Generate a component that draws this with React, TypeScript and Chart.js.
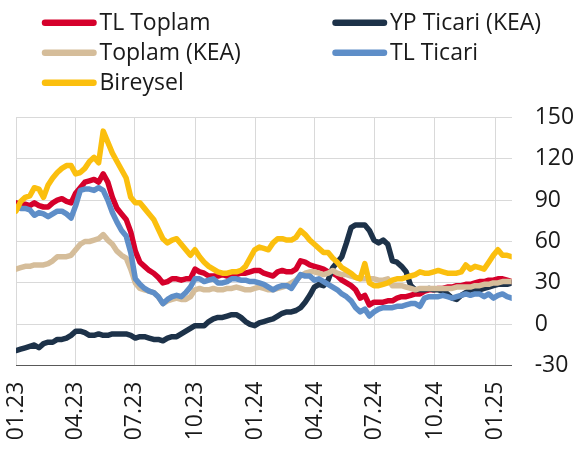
import React, { useEffect, useRef } from 'react';
import { Chart, registerables } from 'chart.js';

Chart.register(...registerables);

const seriesNames = ['TL Toplam', 'YP Ticari (KEA)', 'Toplam (KEA)', 'TL Ticari', 'Bireysel'];
const seriesColors = ['#d5002b', '#1d3249', '#d5bd9a', '#5e8ec8', '#fbbf0e'];

// weekly observations, first week = 01.23
const tlToplam = [88, 87, 87, 86, 88, 86, 85, 85, 88, 90, 91, 89, 88, 95, 99, 103, 104, 105, 103, 109,
  103, 92, 84, 80, 76, 67, 53, 45, 42, 39, 37, 34, 30, 31, 33, 33, 32, 33, 33, 40,
  38, 37, 35, 35, 35, 36, 35, 35, 36, 37, 37, 38, 39, 39, 37, 36, 35, 38, 39, 38,
  38, 40, 46, 45, 43, 42, 41, 40, 38, 37, 35, 32, 30, 28, 25, 19, 21, 14, 16, 16,
  16, 17, 17, 19, 20, 20, 21, 22, 22, 24, 25, 25, 26, 26, 27, 27, 28, 28, 29, 29,
  30, 31, 31, 32, 32, 33, 33, 32, 31];

const ypTicari = [-19, -18, -17, -16, -15, -17, -14, -13, -13, -11, -11, -10, -8, -5, -5, -6, -8, -8, -7, -8,
  -8, -7, -7, -7, -7, -8, -10, -9, -9, -10, -11, -11, -12, -10, -9, -9, -7, -5, -3, -1,
  -1, -1, 2, 4, 5, 5, 6, 7, 7, 5, 2, 0, -1, 1, 2, 3, 4, 6, 8, 9,
  9, 10, 12, 16, 21, 27, 29, 28, 32, 41, 45, 49, 59, 70, 72, 72, 72, 68, 61, 59,
  61, 58, 46, 45, 42, 38, 28, 25, 25, 25, 26, 25, 25, 24, 22, 19, 18, 21, 23, 25,
  25, 25, 26, 27, 28, 29, 29, 29, 30];

const toplamKea = [40, 41, 42, 42, 43, 43, 43, 44, 46, 49, 49, 49, 50, 54, 58, 60, 60, 61, 62, 65,
  61, 58, 53, 50, 48, 40, 30, 26, 25, 24, 23, 20, 15, 17, 18, 19, 18, 18, 20, 25,
  26, 25, 25, 26, 25, 25, 26, 26, 27, 26, 25, 25, 26, 27, 26, 25, 25, 26, 27, 28,
  30, 32, 35, 37, 38, 38, 37, 36, 37, 39, 37, 36, 36, 35, 34, 33, 33, 33, 33, 32,
  32, 33, 28, 28, 28, 27, 26, 25, 26, 26, 26, 26, 26, 26, 26, 26, 27, 27, 27, 27,
  28, 28, 29, 29, 30, 30, 31, 31, 31];

const tlTicari = [85, 84, 84, 83, 79, 81, 80, 78, 80, 82, 82, 80, 77, 86, 97, 98, 98, 97, 99, 97,
  90, 81, 74, 68, 64, 52, 33, 29, 26, 24, 23, 20, 15, 18, 20, 21, 20, 23, 27, 33,
  33, 31, 32, 33, 30, 30, 31, 33, 33, 32, 32, 31, 31, 30, 29, 27, 25, 27, 28, 28,
  26, 31, 36, 35, 35, 32, 33, 31, 29, 27, 25, 22, 20, 17, 12, 9, 11, 6, 9, 11,
  12, 12, 12, 13, 13, 14, 15, 15, 13, 19, 20, 20, 20, 21, 20, 19, 20, 21, 22, 21,
  22, 22, 20, 22, 19, 21, 22, 20, 19];

const bireysel = [82, 89, 92, 93, 99, 98, 92, 101, 106, 110, 113, 115, 115, 109, 110, 113, 118, 121, 117, 140,
  132, 124, 118, 112, 106, 92, 88, 88, 84, 80, 76, 69, 62, 59, 61, 62, 58, 54, 50, 54,
  49, 45, 42, 40, 38, 37, 37, 38, 38, 39, 42, 48, 54, 56, 55, 54, 59, 62, 62, 61,
  61, 63, 68, 65, 61, 58, 55, 52, 52, 48, 45, 41, 39, 37, 34, 33, 44, 30, 28, 28,
  29, 30, 32, 33, 33, 34, 35, 36, 38, 37, 37, 38, 39, 38, 37, 37, 37, 38, 43, 40,
  42, 41, 40, 45, 50, 54, 50, 50, 49];

const seriesValues = [tlToplam, ypTicari, toplamKea, tlTicari, bireysel];

// x axis: days since 01.01.2023; quarter ticks
const tickDays = [0, 90, 181, 273, 365, 456, 547, 639, 731];
const tickLabels = ['01.23', '04.23', '07.23', '10.23', '01.24', '04.24', '07.24', '10.24', '01.25'];
const daysPerWeek = 7;

const yMin = -30;
const yMax = 150;
const yStep = 30;

const FONT = "'Open Sans', 'Noto Sans', sans-serif";

const legendPlugin = {
  id: 'customLegend',
  afterDraw(chart: any) {
    const ctx = chart.ctx as CanvasRenderingContext2D;
    const colX = [45, 335.5];
    const rowY = [22.7, 52.7, 82.7];
    const lineLen = 48.5;
    ctx.save();
    seriesNames.forEach((name, i) => {
      const col = i % 2;
      const row = Math.floor(i / 2);
      const x = colX[col];
      const y = rowY[row];
      ctx.beginPath();
      ctx.strokeStyle = seriesColors[i];
      ctx.lineWidth = 6.5;
      ctx.lineCap = 'round';
      ctx.moveTo(x, y);
      ctx.lineTo(x + lineLen, y);
      ctx.stroke();
      ctx.fillStyle = '#1a1a1a';
      ctx.font = `23px ${FONT}`;
      ctx.textBaseline = 'alphabetic';
      ctx.textAlign = 'left';
      ctx.fillText(name, x + lineLen + 6, y + 7);
    });
    ctx.restore();
  },
};

export default function App() {
  const canvasRef = useRef<HTMLCanvasElement | null>(null);

  useEffect(() => {
    document.body.style.margin = '0';
    const canvas = canvasRef.current;
    if (!canvas) return;
    const datasets = seriesNames.map((name, i) => ({
      label: name,
      data: seriesValues[i].map((v, k) => ({ x: k * daysPerWeek, y: v })),
      borderColor: seriesColors[i],
      backgroundColor: seriesColors[i],
      borderWidth: 5.5,
      pointRadius: 0,
      tension: 0,
      borderJoinStyle: 'round' as const,
      borderCapStyle: 'round' as const,
      order: seriesNames.length - i,
    }));
    const lastX = (tlToplam.length - 1) * daysPerWeek;
    const chart = new Chart(canvas, {
      type: 'line',
      data: { datasets },
      plugins: [legendPlugin],
      options: {
        animation: false,
        responsive: false,
        devicePixelRatio: 1,
        layout: { padding: { top: 117.3, left: 15.7, right: 0, bottom: 0 } },
        plugins: {
          legend: { display: false },
          tooltip: { enabled: false },
        },
        scales: {
          x: {
            type: 'linear',
            min: 0,
            max: lastX,
            afterBuildTicks: (scale: any) => {
              scale.ticks = tickDays.map((v) => ({ value: v }));
            },
            afterFit: (scale: any) => {
              scale.height = 83.3;
            },
            ticks: {
              autoSkip: false,
              maxRotation: 90,
              minRotation: 90,
              padding: 16,
              color: '#1a1a1a',
              font: { family: FONT, size: 23 },
              callback: (value: any) => {
                const idx = tickDays.indexOf(Number(value));
                return idx >= 0 ? tickLabels[idx] : null;
              },
            },
            grid: { color: '#d9d9d9', lineWidth: 1, drawTicks: false },
            border: { display: true, color: '#595959', width: 1 },
          },
          y: {
            position: 'right',
            min: yMin,
            max: yMax,
            afterFit: (scale: any) => {
              scale.width = 66.3;
            },
            ticks: {
              stepSize: yStep,
              padding: 23,
              color: '#1a1a1a',
              font: { family: FONT, size: 23 },
            },
            grid: { color: '#d9d9d9', lineWidth: 1, drawTicks: false },
            border: { display: false },
          },
        },
      },
    });
    return () => chart.destroy();
  }, []);

  return (
    <div style={{ position: 'fixed', left: 0, top: 0, width: 578, height: 449, background: '#fff' }}>
      <canvas ref={canvasRef} width={578} height={449} />
    </div>
  );
}
